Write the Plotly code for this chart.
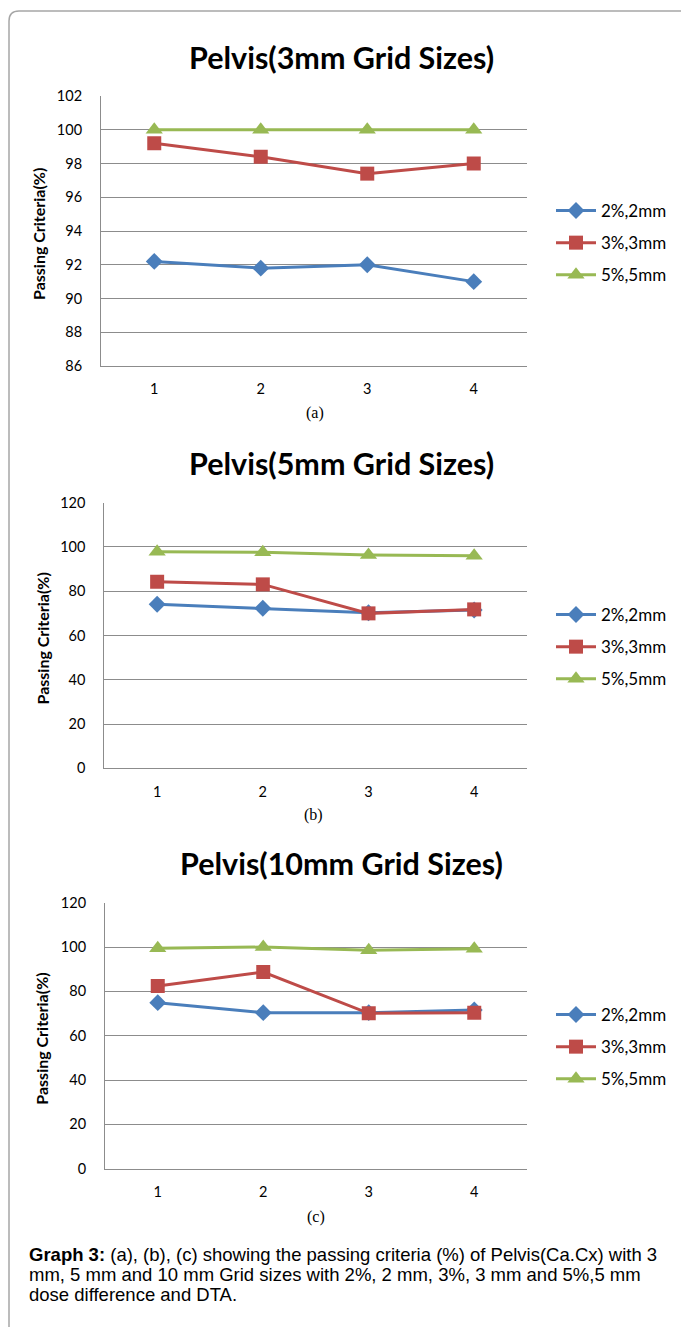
import plotly.graph_objects as go

W, H = 681, 1327

categories = [1, 2, 3, 4]
series_names = ["2%,2mm", "3%,3mm", "5%,5mm"]

# Panel (a) 3mm grid
a_2mm = [92.2, 91.8, 92.0, 91.0]
a_3mm = [99.2, 98.4, 97.4, 98.0]
a_5mm = [100, 100, 100, 100]
# Panel (b) 5mm grid
b_2mm = [74.1, 72.3, 70.3, 71.5]
b_3mm = [84.3, 83.1, 70.0, 71.8]
b_5mm = [97.8, 97.6, 96.4, 96.0]
# Panel (c) 10mm grid
c_2mm = [74.9, 70.4, 70.4, 71.6]
c_3mm = [82.4, 88.7, 70.1, 70.4]
c_5mm = [99.4, 100.0, 98.6, 99.2]

titles = ["Pelvis(3mm Grid Sizes)", "Pelvis(5mm Grid Sizes)", "Pelvis(10mm Grid Sizes)"]
panel_labels = ["(a)", "(b)", "(c)"]
y_ranges = [[86, 102], [0, 120], [0, 120]]
y_dticks = [2, 20, 20]

caption_lines = [
    "<b>Graph 3:</b> (a), (b), (c) showing the passing criteria (%) of Pelvis(Ca.Cx) with 3",
    "mm, 5 mm and 10 mm Grid sizes with 2%, 2 mm, 3%, 3 mm and 5%,5 mm",
    "dose difference and DTA.",
]

colors = ["#4A7EBB", "#BE4B48", "#98B954"]
symbols = ["diamond", "square", "triangle-up"]
msizes = [13, 14, 15]

def PX(x):
    return x / W

def PY(y):
    return 1 - y / H

panels = [
    dict(data=[a_2mm, a_3mm, a_5mm], left=101, top=96, bottom=366, ytitle_x=38,
         title_y=57, lab=(315, 413), leg_y=243),
    dict(data=[b_2mm, b_3mm, b_5mm], left=104.3, top=502.7, bottom=768.3, ytitle_x=42,
         title_y=463, lab=(313, 815), leg_y=647),
    dict(data=[c_2mm, c_3mm, c_5mm], left=105, top=902.7, bottom=1168.7, ytitle_x=42,
         title_y=863, lab=(316, 1217), leg_y=1047),
]
RIGHT = 527

fig = go.Figure()
annotations = []
layout_axes = {}
tick_font = dict(family="Lato", size=14.5, color="#000000")
grid_color = "#8C8C8C"

for i, p in enumerate(panels):
    sfx = "" if i == 0 else str(i + 1)
    xa, ya = "x" + sfx, "y" + sfx
    leg = "legend" + sfx
    for j, name in enumerate(series_names):
        fig.add_trace(go.Scatter(
            x=categories, y=p["data"][j], name=name, mode="lines+markers",
            xaxis=xa, yaxis=ya, legend=leg, legendgroup=f"g{i}{j}",
            line=dict(color=colors[j], width=3),
            marker=dict(symbol=symbols[j], size=msizes[j], color=colors[j]),
        ))
    layout_axes["xaxis" + sfx] = dict(
        domain=[PX(p["left"]), PX(RIGHT)], range=[0.5, 4.5], anchor=ya,
        tickvals=categories, ticktext=[str(c) for c in categories],
        showgrid=False, zeroline=False, showline=True, linecolor=grid_color,
        linewidth=1, ticks="", tickfont=tick_font, ticklabelstandoff=10,
        fixedrange=True, automargin=False,
    )
    layout_axes["yaxis" + sfx] = dict(
        domain=[PY(p["bottom"]), PY(p["top"])], range=y_ranges[i], anchor=xa,
        dtick=y_dticks[i], tick0=y_ranges[i][0], showgrid=True, gridcolor=grid_color,
        gridwidth=1, zeroline=False, showline=True, linecolor=grid_color,
        linewidth=1, ticks="", tickfont=tick_font, ticklabelstandoff=15,
        fixedrange=True, automargin=False,
    )
    layout_axes[leg] = dict(
        x=PX(551), y=PY(p["leg_y"]), xanchor="left", yanchor="middle",
        font=dict(family="Lato", size=17, color="#000000"),
        bgcolor="rgba(0,0,0,0)", traceorder="grouped", tracegroupgap=7,
        itemwidth=40,
    )
    annotations.append(dict(
        text=f"<b>{titles[i]}</b>", x=PX(341), y=PY(p["title_y"]), xref="paper", yref="paper",
        xanchor="center", yanchor="middle", showarrow=False,
        font=dict(family="Lato", size=30.5, color="#000000"),
    ))
    annotations.append(dict(
        text="<b>Passing Criteria(%)</b>", x=PX(p["ytitle_x"]), y=PY((p["top"] + p["bottom"]) / 2 + 3),
        xref="paper", yref="paper", xanchor="center", yanchor="middle", showarrow=False,
        textangle=-90, font=dict(family="Lato", size=16, color="#000000"),
    ))
    annotations.append(dict(
        text=panel_labels[i], x=PX(p["lab"][0]), y=PY(p["lab"][1]), xref="paper", yref="paper",
        xanchor="center", yanchor="middle", showarrow=False,
        font=dict(family="Liberation Serif", size=16, color="#000000"),
    ))

for k, (line, yy) in enumerate(zip(caption_lines, [1254, 1274, 1294])):
    annotations.append(dict(
        text=line, x=PX(27), y=PY(yy), xref="paper", yref="paper",
        xanchor="left", yanchor="middle", align="left", showarrow=False,
        font=dict(family="Liberation Sans", size=18.5, color="#000000"),
    ))

border = (f"M {PX(9)},{PY(1330)} L {PX(9)},{PY(21)} Q {PX(9)},{PY(11)} {PX(19)},{PY(11)} "
          f"L {PX(690)},{PY(11)}")

fig.update_layout(
    template="none",
    width=W, height=H, margin=dict(l=0, r=0, t=0, b=0, autoexpand=False),
    paper_bgcolor="white", plot_bgcolor="white",
    annotations=annotations, hovermode=False,
    shapes=[dict(type="path", path=border, xref="paper", yref="paper",
                 line=dict(color="#A6A6A6", width=1.5))],
    **layout_axes,
)

fig.write_html("out.html")
